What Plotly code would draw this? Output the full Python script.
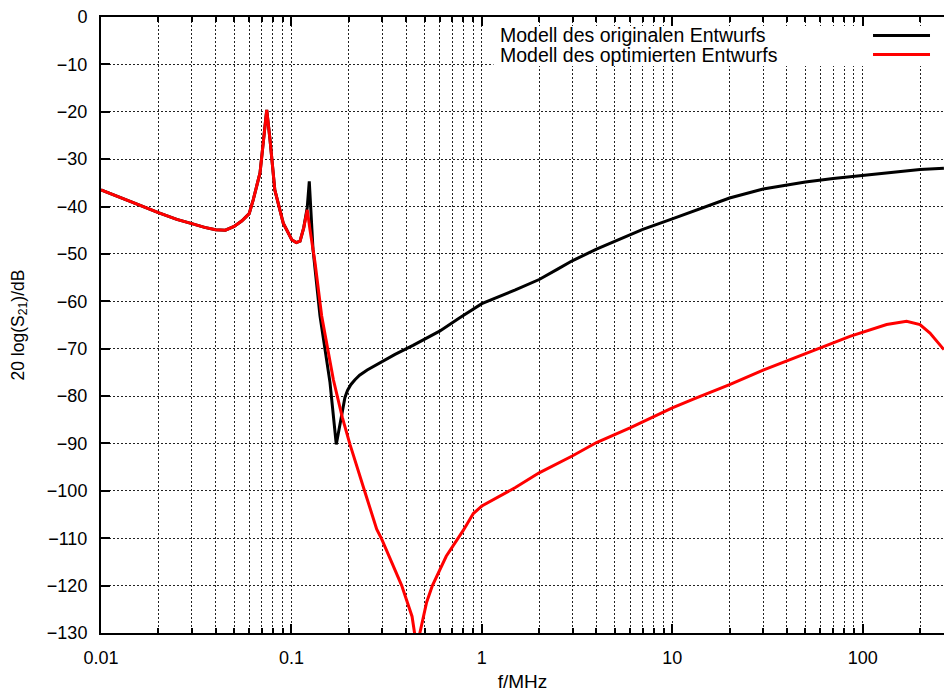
import plotly.graph_objects as go

# ---- data (frequency in MHz, level in dB) ----
f_orig = [0.01, 0.0125, 0.015, 0.02, 0.025, 0.03, 0.035, 0.04, 0.045, 0.05, 0.055, 0.06, 0.063,
          0.0684, 0.0727, 0.0742, 0.0772, 0.0818, 0.0906, 0.1004, 0.106, 0.111, 0.116,
          0.1211, 0.1241, 0.1298, 0.1413, 0.1594, 0.172, 0.181, 0.186, 0.191, 0.197, 0.205, 0.215,
          0.228, 0.25, 0.292, 0.35, 0.435, 0.5, 0.6, 0.762, 1.0, 1.5, 2.0, 2.5, 3.0, 4.0, 5.0, 7.0,
          10.0, 15.0, 20.0, 30.0, 50.0, 70.0, 100.0, 150.0, 200.0, 267.0]
db_orig = [-36.5, -38.1, -39.3, -41.3, -42.7, -43.6, -44.4, -44.9, -45.0, -44.2, -43.0, -41.5, -38.6,
           -32.9, -23.8, -19.6, -25.9, -36.5, -43.5, -47.0, -47.6, -47.3, -44.5,
           -40.2, -34.7, -49.0, -63.1, -77.1, -90.2, -85.5, -82.5, -80.3, -78.8, -77.6, -76.6,
           -75.6, -74.5, -72.9, -71.2, -69.3, -68.0, -66.3, -63.5, -60.5, -57.6, -55.4, -53.2,
           -51.4, -49.0, -47.3, -44.8, -42.6, -40.0, -38.2, -36.3, -34.8, -34.1, -33.5, -32.8,
           -32.2, -31.9]

f_opt = [0.01, 0.0125, 0.015, 0.02, 0.025, 0.03, 0.035, 0.04, 0.045, 0.05, 0.055, 0.06, 0.063,
         0.0684, 0.0727, 0.0742, 0.0772, 0.0818, 0.0906, 0.1004, 0.106, 0.111, 0.116,
         0.1211, 0.1252, 0.133, 0.1442, 0.166, 0.185, 0.203, 0.24, 0.2804, 0.298, 0.3795, 0.43,
         0.455, 0.513, 0.55, 0.65, 0.8, 0.902, 1.0, 1.5, 2.0, 3.0, 4.0, 6.0, 10.0, 13.0, 20.0,
         30.0, 50.0, 85.7, 133.6, 170.0, 200.0, 225.6, 267.0]
db_opt = [-36.5, -38.1, -39.3, -41.3, -42.7, -43.6, -44.4, -44.9, -45.0, -44.2, -43.0, -41.5, -38.6,
          -32.9, -23.8, -19.6, -25.9, -36.5, -43.5, -47.0, -47.6, -47.3, -44.5,
          -40.7, -44.9, -51.8, -63.1, -76.5, -84.5, -90.2, -99.5, -108.1, -110.2, -120.0, -126.5,
          -133.0, -123.5, -120.0, -113.8, -108.3, -104.8, -103.2, -99.3, -96.2, -92.6, -89.8, -86.7,
          -82.5, -80.6, -77.6, -74.5, -71.0, -67.4, -64.9, -64.2, -64.9, -66.7, -70.2]

series_names = ["Modell des originalen Entwurfs", "Modell des optimierten Entwurfs"]
series_colors = ["#000000", "#ff0000"]

x_major = [0.01, 0.1, 1, 10, 100]
x_major_text = ["0.01", "0.1", "1", "10", "100"]
x_minor = [m * d for d in [0.01, 0.1, 1, 10, 100] for m in range(2, 10) if m * d < 270]
y_ticks = list(range(-130, 1, 10))

FONT = "Liberation Sans, Arial, sans-serif"

fig = go.Figure()
fig.add_trace(go.Scatter(x=f_orig, y=db_orig, mode="lines", name=series_names[0],
                         line=dict(color=series_colors[0], width=3)))
fig.add_trace(go.Scatter(x=f_opt, y=db_opt, mode="lines", name=series_names[1],
                         line=dict(color=series_colors[1], width=3)))

fig.update_layout(
    width=944, height=692,
    margin=dict(l=101, r=0, t=17, b=59),
    paper_bgcolor="white", plot_bgcolor="white",
    showlegend=False,
    font=dict(family=FONT, size=18, color="black"),
)

fig.update_xaxes(
    type="log", range=[-2, 2.427],
    tickmode="array", tickvals=x_major, ticktext=x_major_text,
    ticks="inside", ticklen=9, tickwidth=2, tickcolor="black",
    showline=True, linewidth=2, linecolor="black", mirror="ticks",
    showgrid=True, gridcolor="#222", gridwidth=1, griddash="2px,2px",
    zeroline=False, ticklabelstandoff=7,
    tickfont=dict(size=18),
    minor=dict(tickmode="array", tickvals=x_minor, ticks="inside", ticklen=5, tickwidth=2,
               tickcolor="black", showgrid=True, gridcolor="#222", gridwidth=1, griddash="2px,2px"),
    title=dict(text="f/MHz", font=dict(size=19), standoff=11),
)
fig.update_yaxes(
    range=[-130, 0], tickmode="array", tickvals=y_ticks,
    ticks="inside", ticklen=9, tickwidth=2, tickcolor="black",
    showline=True, linewidth=2, linecolor="black",
    showgrid=True, gridcolor="#222", gridwidth=1, griddash="2px,2px",
    zeroline=False, ticklabelstandoff=8,
    tickfont=dict(size=18),
    title=dict(text="20 log(S<sub>21</sub>)/dB", font=dict(size=17.5), standoff=18),
)

# legend box (gnuplot style: text left, line sample right)
fig.add_shape(type="rect", xref="paper", yref="paper", x0=0.4656, x1=1.0, y0=0.9205, y1=0.9854,
              fillcolor="white", line=dict(width=0), layer="above")
legend_y = [0.970, 0.939]
for name, color, yy in zip(series_names, series_colors, legend_y):
    fig.add_annotation(xref="paper", yref="paper", x=0.4707, y=yy, text=name, showarrow=False,
                       xanchor="left", yanchor="middle", font=dict(size=19.5, family=FONT))
    fig.add_shape(type="line", xref="paper", yref="paper", x0=0.9158, x1=0.9834, y0=yy, y1=yy,
                  line=dict(color=color, width=3), layer="above")

fig.write_html("out.html")
